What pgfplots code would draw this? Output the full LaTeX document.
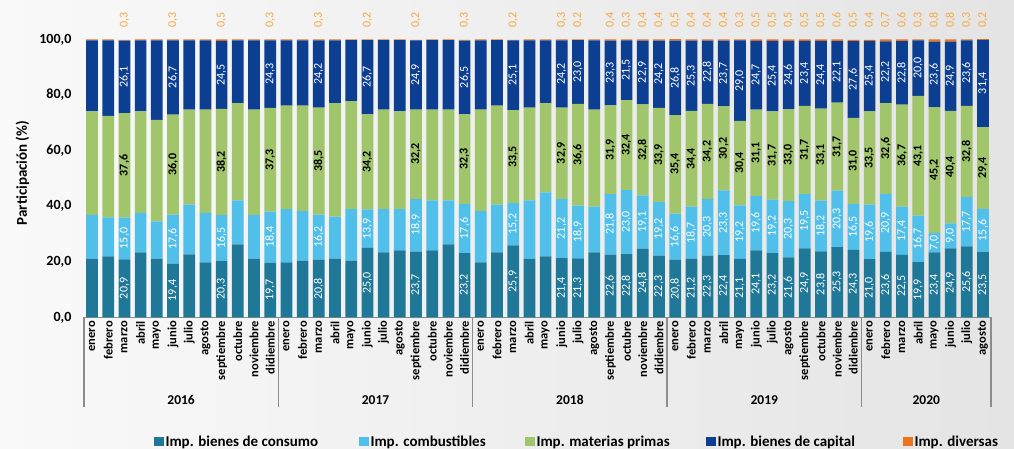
\documentclass[border=0pt]{standalone}
\usepackage{pgfplots}
\pgfplotsset{compat=1.18}
\usepackage{pgfplotstable}
\usepackage{fontspec}
\setmainfont{Carlito}
\definecolor{consC}{RGB}{31,120,152}
\definecolor{combC}{RGB}{80,191,234}
\definecolor{matC}{RGB}{160,197,106}
\definecolor{capC}{RGB}{12,62,145}
\definecolor{divC}{RGB}{236,116,28}
\definecolor{divL}{RGB}{247,168,60}
\definecolor{axC}{RGB}{140,140,140}
\definecolor{bgL}{RGB}{249,249,249}
\definecolor{bgR}{RGB}{228,228,228}
\pgfplotstableread{
idx cons comb mat cap div lab
0 21.2 15.7 37.2 25.6 0.3 0
1 22.0 14.0 36.5 27.2 0.3 0
2 20.9 15.0 37.6 26.1 0.3 1
3 23.4 14.2 36.5 25.6 0.3 0
4 21.2 13.4 36.5 28.6 0.3 0
5 19.4 17.6 36.0 26.7 0.3 1
6 22.7 17.9 34.2 24.9 0.3 0
7 19.8 17.8 37.2 24.9 0.3 0
8 20.3 16.5 38.2 24.5 0.5 1
9 26.3 15.8 35.0 22.6 0.3 0
10 21.2 15.7 37.9 24.9 0.3 0
11 19.7 18.4 37.3 24.3 0.3 1
12 19.8 19.2 37.2 23.5 0.3 0
13 20.5 17.8 37.9 23.5 0.3 0
14 20.8 16.2 38.5 24.2 0.3 1
15 21.2 15.1 40.8 22.6 0.3 0
16 20.5 18.5 38.8 22.0 0.2 0
17 25.0 13.9 34.2 26.7 0.2 1
18 23.4 15.6 35.8 25.0 0.2 0
19 24.1 14.9 35.1 25.7 0.2 0
20 23.7 18.9 32.2 24.9 0.2 1
21 24.1 18.0 32.7 25.0 0.2 0
22 26.3 15.8 32.7 25.0 0.2 0
23 23.2 17.6 32.3 26.5 0.3 1
24 19.8 18.5 36.5 24.9 0.3 0
25 23.4 17.2 35.6 23.6 0.2 0
26 25.9 15.2 33.5 25.1 0.2 1
27 21.2 20.9 33.4 24.2 0.3 0
28 22.0 23.0 32.1 22.6 0.3 0
29 21.4 21.2 32.9 24.2 0.3 1
30 21.3 18.9 36.6 23.0 0.2 1
31 23.4 16.5 34.9 24.9 0.3 0
32 22.6 21.8 31.9 23.3 0.4 1
33 22.8 23.0 32.4 21.5 0.3 1
34 24.8 19.1 32.8 22.9 0.4 1
35 22.3 19.2 33.9 24.2 0.4 1
36 20.8 16.6 35.4 26.8 0.5 1
37 21.2 18.7 34.4 25.3 0.4 1
38 22.3 20.3 34.2 22.8 0.4 1
39 22.4 23.3 30.2 23.7 0.4 1
40 21.1 19.2 30.4 29.0 0.3 1
41 24.1 19.6 31.1 24.7 0.5 1
42 23.2 19.2 31.7 25.4 0.5 1
43 21.6 20.3 33.0 24.6 0.5 1
44 24.9 19.5 31.7 23.4 0.5 1
45 23.8 18.2 33.1 24.4 0.5 1
46 25.3 20.3 31.7 22.1 0.6 1
47 24.3 16.5 31.0 27.6 0.5 1
48 21.0 19.6 33.5 25.4 0.4 1
49 23.6 20.9 32.6 22.2 0.7 1
50 22.5 17.4 36.7 22.8 0.6 1
51 19.9 16.7 43.1 20.0 0.3 1
52 23.4 7.0 45.2 23.6 0.8 1
53 24.9 9.0 40.4 24.9 0.8 1
54 25.6 17.7 32.8 23.6 0.3 1
55 23.5 15.6 29.4 31.4 0.2 1
}\datatable
\pgfplotsset{
  numfmt/.style={/pgf/number format/use comma, /pgf/number format/fixed, /pgf/number format/fixed zerofill,
    /pgf/number format/precision=1, /pgf/number format/assume math mode=true},
  myframe/.style={at={(83.9pt,131.5pt)}, anchor=south west,
    x=16.2pt, y=2.78pt, xmin=-0.5, xmax=55.5, ymin=0, ymax=100,
    enlargelimits=false, clip=false},
  sqlegend/.style={legend image code/.code={\fill[##1, draw=none] (0pt,-4.5pt) rectangle (10pt,4.5pt);}},
}
\begin{document}
\begin{tikzpicture}
\path[use as bounding box] (0,0) rectangle (1014pt,449pt);
\shade[left color=bgL, right color=bgR] (0,0) rectangle (1014pt,449pt);
\begin{axis}[
  myframe, numfmt,
  ybar stacked, bar width=11.7pt,
  axis x line*=bottom, axis y line*=left,
  x axis line style={draw=axC, line width=1.3pt},
  y axis line style={draw=none},
  major tick length=0pt,
  xtick={0,...,55},
  xticklabels={enero,febrero,marzo,abril,mayo,junio,julio,agosto,septiembre,octubre,noviembre,didiembre,
    enero,febrero,marzo,abril,mayo,junio,julio,agosto,septiembre,octubre,noviembre,didiembre,
    enero,febrero,marzo,abril,mayo,junio,julio,agosto,septiembre,octubre,noviembre,didiembre,
    enero,febrero,marzo,abril,mayo,junio,julio,agosto,septiembre,octubre,noviembre,didiembre,
    enero,febrero,marzo,abril,mayo,junio,julio,agosto},
  xticklabel style={rotate=90, anchor=east, font=\bfseries\fontsize{12.5}{14}\selectfont},
  ytick={0,20,...,100},
  yticklabel style={font=\bfseries\fontsize{14}{16}\selectfont, xshift=-9pt},
  ylabel={Participación (\%)},
  ylabel style={at={(axis description cs:-0.0677,0.52)}, anchor=center, font=\bfseries\fontsize{15}{17}\selectfont},
  legend columns=5,
  legend style={at={(axis description cs:0.0773,-0.4468)}, anchor=west, draw=none, fill=none,
    inner sep=0pt, outer sep=0pt, nodes={inner sep=1.5pt},
    font=\bfseries\fontsize{15}{17}\selectfont,
    /tikz/every even column/.append style={column sep=0pt}},
]
\addplot[fill=consC, draw=none, sqlegend] table[x=idx, y=cons] {\datatable};
\addlegendentry{\makebox[192pt][l]{Imp. bienes de consumo}}
\addplot[fill=combC, draw=none, sqlegend] table[x=idx, y=comb] {\datatable};
\addlegendentry{\makebox[153pt][l]{Imp. combustibles}}
\addplot[fill=matC, draw=none, sqlegend] table[x=idx, y=mat] {\datatable};
\addlegendentry{\makebox[168pt][l]{Imp. materias primas}}
\addplot[fill=capC, draw=none, sqlegend] table[x=idx, y=cap] {\datatable};
\addlegendentry{\makebox[184pt][l]{Imp. bienes de capital}}
\addplot[fill=divC, draw=none, sqlegend] table[x=idx, y=div] {\datatable};
\addlegendentry{Imp. diversas}
\pgfplotsinvokeforeach{-0.5,11.5,23.5,35.5,47.5,55.5}{
  \draw[axC, line width=1.3pt] (axis cs:#1,0) -- ++(0pt,-90pt);
}
\node[font=\bfseries\fontsize{13.5}{15}\selectfont, yshift=-82.5pt] at (axis cs:5.5,0) {2016};
\node[font=\bfseries\fontsize{13.5}{15}\selectfont, yshift=-82.5pt] at (axis cs:17.5,0) {2017};
\node[font=\bfseries\fontsize{13.5}{15}\selectfont, yshift=-82.5pt] at (axis cs:29.5,0) {2018};
\node[font=\bfseries\fontsize{13.5}{15}\selectfont, yshift=-82.5pt] at (axis cs:41.5,0) {2019};
\node[font=\bfseries\fontsize{13.5}{15}\selectfont, yshift=-82.5pt] at (axis cs:51.5,0) {2020};
\end{axis}
% value labels, centred in each stacked segment
\begin{axis}[
  myframe, numfmt, hide axis,
  nodes near coords,
]
\addplot[draw=none, mark=none, point meta=\thisrow{cons},
  restrict expr to domain={\thisrow{lab}}{0.5:1.5},
  every node near coord/.append style={anchor=center, rotate=90, text=white, font=\fontsize{12}{14}\selectfont}]
  table[x=idx, y expr={\thisrow{cons}/2}] {\datatable};
\addplot[draw=none, mark=none, point meta=\thisrow{comb},
  restrict expr to domain={\thisrow{lab}}{0.5:1.5},
  every node near coord/.append style={anchor=center, rotate=90, text=white, font=\fontsize{12}{14}\selectfont}]
  table[x=idx, y expr={\thisrow{cons}+\thisrow{comb}/2}] {\datatable};
\addplot[draw=none, mark=none, point meta=\thisrow{mat},
  restrict expr to domain={\thisrow{lab}}{0.5:1.5},
  every node near coord/.append style={anchor=center, rotate=90, text=black, font=\bfseries\fontsize{12}{14}\selectfont}]
  table[x=idx, y expr={\thisrow{cons}+\thisrow{comb}+\thisrow{mat}/2}] {\datatable};
\addplot[draw=none, mark=none, point meta=\thisrow{cap},
  restrict expr to domain={\thisrow{lab}}{0.5:1.5},
  every node near coord/.append style={anchor=center, rotate=90, text=white, font=\fontsize{12}{14}\selectfont}]
  table[x=idx, y expr={\thisrow{cons}+\thisrow{comb}+\thisrow{mat}+\thisrow{cap}/2}] {\datatable};
\addplot[draw=none, mark=none, point meta=\thisrow{div},
  restrict expr to domain={\thisrow{lab}}{0.5:1.5},
  every node near coord/.append style={yshift=19.5pt, anchor=center, rotate=90, text=divL, font=\fontsize{12}{14}\selectfont}]
  table[x=idx, y expr={\thisrow{cons}+\thisrow{comb}+\thisrow{mat}+\thisrow{cap}+\thisrow{div}}] {\datatable};
\end{axis}
\end{tikzpicture}
\end{document}
